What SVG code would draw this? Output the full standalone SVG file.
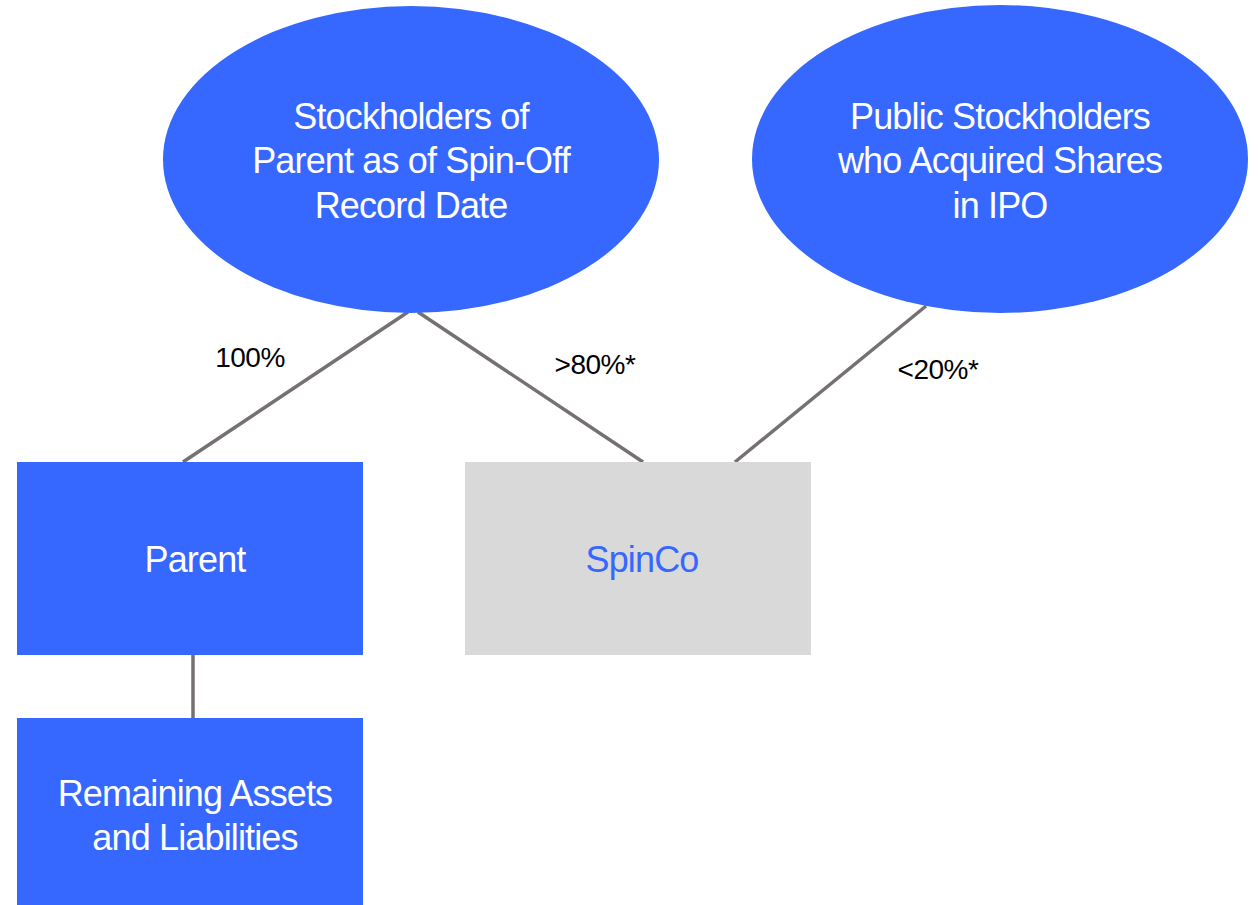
<svg xmlns="http://www.w3.org/2000/svg" width="1258" height="905" viewBox="0 0 1258 905">
  <style>
    .blue { fill: #3668FF; }
    .gray { fill: #D9D9D9; }
    .conn { stroke: #767171; stroke-width: 3.5; fill: none; }
    .main { font-family: "Liberation Sans", Arial, sans-serif; font-size: 36px; letter-spacing: -0.85px; text-anchor: middle; }
    .w { fill: #FFFFFF; }
    .b { fill: #3668FF; }
    .lbl { font-family: "Liberation Sans", Arial, sans-serif; font-size: 28px; letter-spacing: -0.5px; fill: #000000; text-anchor: middle; }
  </style>
  <rect width="1258" height="905" fill="#FFFFFF"/>
  <g id="connectors">
    <line class="conn" x1="408" y1="312" x2="183" y2="462"/>
    <line class="conn" x1="418" y1="312" x2="643" y2="462"/>
    <line class="conn" x1="926" y1="306" x2="735" y2="462"/>
    <line class="conn" x1="193" y1="655" x2="193" y2="718"/>
    <text class="lbl" x="250" y="367">100%</text>
    <text class="lbl" x="595" y="374">&gt;80%*</text>
    <text class="lbl" x="938" y="379">&lt;20%*</text>
  </g>
  <g id="stockholders">
    <ellipse class="blue" cx="411" cy="159.5" rx="248" ry="153.5"/>
    <text class="main w" x="411" y="129">Stockholders of</text>
    <text class="main w" x="411" y="173">Parent as of Spin-Off</text>
    <text class="main w" x="411" y="218">Record Date</text>
  </g>
  <g id="public">
    <ellipse class="blue" cx="1000" cy="159" rx="248" ry="154"/>
    <text class="main w" x="1000" y="129">Public Stockholders</text>
    <text class="main w" x="1000" y="173">who Acquired Shares</text>
    <text class="main w" x="1000" y="218">in IPO</text>
  </g>
  <g id="parent">
    <rect class="blue" x="17" y="462" width="346" height="193"/>
    <text class="main w" x="195" y="572">Parent</text>
  </g>
  <g id="spinco">
    <rect class="gray" x="465" y="462" width="346" height="193"/>
    <text class="main b" x="642" y="572">SpinCo</text>
  </g>
  <g id="remaining">
    <rect class="blue" x="17" y="718" width="346" height="190"/>
    <text class="main w" x="195" y="806">Remaining Assets</text>
    <text class="main w" x="195" y="850">and Liabilities</text>
  </g>
</svg>
